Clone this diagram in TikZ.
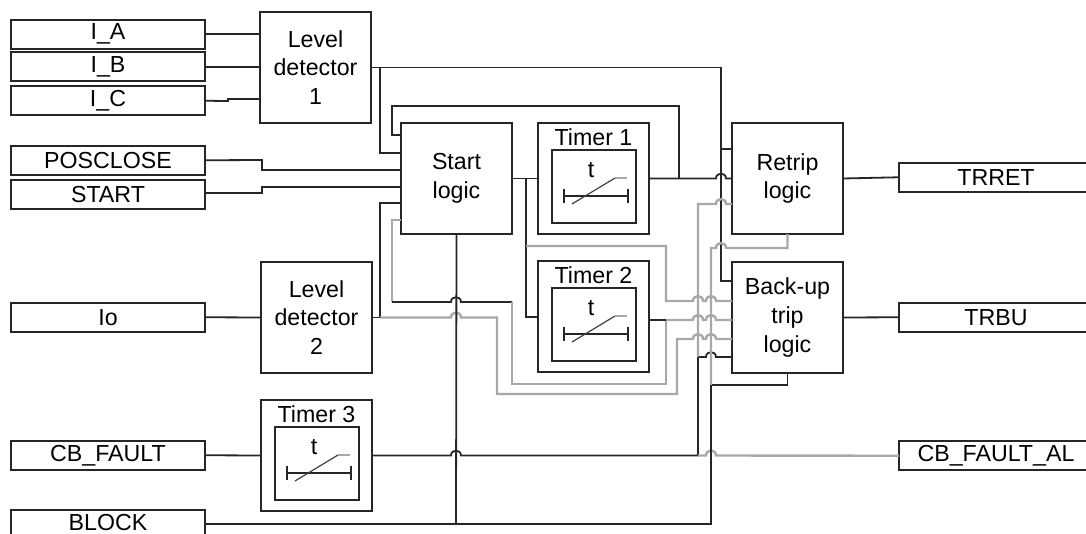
\documentclass[tikz,border=0pt]{standalone}
\usepackage{fontspec}
\setmainfont{Liberation Sans}
\usepackage{tikz}
\usetikzlibrary{calc}

% small hop of a wire over a crossing vertical wire (drawn left to right)
\newcommand{\wirehop}[2]{-- (#1-5,#2) .. controls +(0,-6.5) and +(0,-6.5) .. (#1+5,#2)}

\begin{document}
\begin{tikzpicture}[x=0.75pt,y=0.75pt,yscale=-1,xscale=1,
  every node/.style={font=\fontsize{17.4}{21.4}\selectfont, inner sep=0pt, outer sep=0pt},
  sigbox/.style={draw=black!85, line width=1.5pt, minimum width=145.5pt, minimum height=21.4pt, anchor=north west},
  logicbox/.style={draw=black!85, line width=1.5pt, minimum width=83.25pt, minimum height=83.25pt, align=center, anchor=north west},
  boxline/.style={draw=black!85, line width=1.5pt},
  wire/.style={draw=black!85, line width=1.35pt},
  gwire/.style={draw={rgb,255:red,168;green,168;blue,168}, line width=1.8pt}]
\path[fill=white, use as bounding box] (0,0) rectangle (1086,534);

%Shape: Input signals
\node[sigbox] (ia) at (11,20) {I\_A};
\node[sigbox] (ib) at (11,52.5) {I\_B};
\node[sigbox] (ic) at (11,86.5) {I\_C};
\node[sigbox] (pos) at (11,146) {POSCLOSE};
\node[sigbox] (st) at (11,180.5) {START};
\node[sigbox] (io) at (11,303) {Io};
\node[sigbox] (cbf) at (11,441) {CB\_FAULT};
\node[sigbox, minimum height=18.75pt] (blk) at (11,510) {BLOCK};

%Shape: Output signals
\node[sigbox] (trret) at (899,163) {TRRET};
\node[sigbox] (trbu) at (899,303) {TRBU};
\node[sigbox] (cbfal) at (899,441.5) {CB\_FAULT\_AL};

%Shape: Logic blocks
\node[logicbox] (ld1) at (260,12) {Level\\detector\\1};
\node[logicbox] (sl) at (401,123) {Start\\logic};
\node[logicbox] (rt) at (732,123) {Retrip\\logic};
\node[logicbox] (ld2) at (261,262) {Level\\detector\\2};
\node[logicbox] (bu) at (732,262) {Back-up\\trip\\logic};
\node[logicbox] (t1) at (538,123) {};
\node[logicbox] (t2) at (538,261) {};
\node[logicbox] (t3) at (261,400) {};

%Shape: Timer symbols
\foreach \tn/\X/\Y in {1/538/123, 2/538/261, 3/261/400}{
  \begin{scope}[shift={(\X,\Y)}]
    \draw[boxline] (14,27) rectangle (98,100);
    \node (tname\tn) at (55.5,14.5) {Timer \tn};
    \node (tsym\tn) at (53,47) {t};
    \draw[wire] (26,73) -- (90,73) (26,66) -- (26,80) (90,66) -- (90,80);
    \draw[black!75, line width=0.9pt] (34,81) -- (77,55);
    \draw[gwire, line width=1.2pt] (77,55) -- (89,55);
  \end{scope}
}

% Level detector 1 inputs
\draw[wire] (ia.east) -- (ia.east -| ld1.west);
\draw[wire] (ib.east) -- (ib.east -| ld1.west);
\draw[wire] (ic.east) -- (228,101) -- (228,99) -- (ld1.west |- 0,99);

% Level detector 1 output
\draw[wire] (ld1.east) -- (ld1.east -| 721,0) -- (721,281) -- (bu.west |- 0,281);
\draw[wire] (721,149) -- (rt.west |- 0,149);
\draw[wire] (380,67.5) -- (380,153) -- (sl.west |- 0,153);

% POSCLOSE and START
\draw[wire] (pos.east) -- (262,160) -- (262,170) -- (sl.west |- 0,170);
\draw[wire] (st.east |- 0,193) -- (262,193) -- (262,187) -- (sl.west |- 0,187);

% Start logic and timers
\draw[wire] (sl.east) -- (t1.west);
\draw[wire] (526,178.5) -- (526,317) -- (t2.west |- 0,317);
\draw[gwire] (526,246) -- (666,246) -- (666,301) \wirehop{698}{301} \wirehop{711}{301} -- (bu.west |- 0,301);
\draw[wire] (t1.east) \wirehop{721}{178.5} -- (rt.west);
\draw[wire] (679,178.5) -- (679,106) -- (392,106) -- (392,135) -- (sl.west |- 0,135);

% Level detector 2
\draw[wire] (io.east) -- (ld2.west);
\draw[wire] (ld2.east) -- (380,317.5) -- (380,203) -- (sl.west |- 0,203);
\draw[gwire] (380,317.5) \wirehop{456}{317.5} -- (497,317.5) -- (497,394) -- (677,394) -- (677,339) \wirehop{698}{339} \wirehop{711}{339} -- (bu.west |- 0,339);

% Start logic gray loop and timer 2 output
\draw[gwire] (sl.west |- 0,220) -- (392,220) -- (392,302);
\draw[wire] (392,302) \wirehop{456}{302} -- (512,302);
\draw[gwire] (512,302) -- (512,384) -- (666,384) -- (666,320);
\draw[wire] (t2.east |- 0,320) -- (666,320);
\draw[gwire] (666,320) \wirehop{698}{320} \wirehop{711}{320} -- (bu.west |- 0,320);

% Timer 3
\draw[wire] (cbf.east) -- (t3.west);
\draw[wire] (t3.east) \wirehop{456}{455.5} -- (698,455.5) -- (698,357) \wirehop{711}{357} -- (bu.west |- 0,357);
\draw[gwire] (698,357) -- (698,204) \wirehop{721}{204} -- (rt.west |- 0,204);
\draw[gwire] (698,455.5) \wirehop{711}{455.5} -- (cbfal.west);

% BLOCK and bottom outputs
\draw[wire] (sl.south) -- (456,524);
\draw[wire] (blk.east |- 0,524) -- (711,524) -- (711,385) -- (bu.south |- 0,385) -- (bu.south);
\draw[gwire] (711,385) -- (711,248) \wirehop{721}{248} -- (rt.south |- 0,248) -- (rt.south);

% Outputs
\draw[wire] (rt.east) -- (trret.west);
\draw[wire] (bu.east) -- (trbu.west);

\end{tikzpicture}
\end{document}
